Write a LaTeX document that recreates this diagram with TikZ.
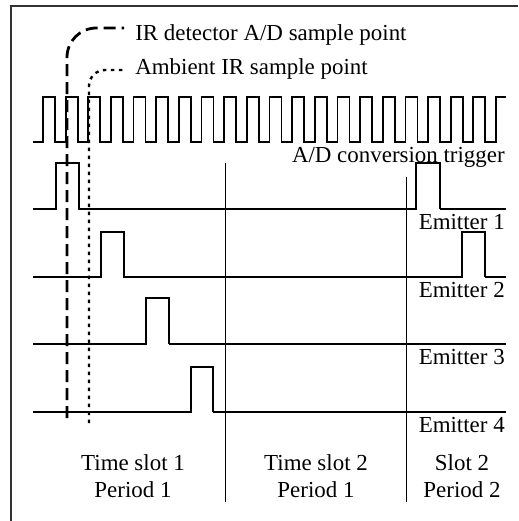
\documentclass[tikz,border=0pt]{standalone}
\usepackage{fontspec}
\setmainfont{Liberation Serif}
\usepackage{tikz}
\usetikzlibrary{calc}

\begin{document}
\begin{tikzpicture}[x=0.75pt, y=-0.75pt,
    signal/.style={line width=1.3pt, line join=miter},
    sigtail/.style={line width=1.8pt},
    slotline/.style={line width=0.7pt},
    lbl/.style={font=\fontsize{17.2}{20}\selectfont, inner sep=0pt}]
    \useasboundingbox (0,0) rectangle (518,521);

    % Frame
    \draw[line width=1pt, black!80] (11,521) -- (11,6) -- (518,6);

    % Clock
    \draw[signal] (33,142) -- (43,142)
        \foreach \i in {0,...,19} { -- ++(0,-45) -- ++(12,0) -- ++(0,45) -- ++(10.65,0) }
        -- ++(0,-45) -- (506,97);

    % A/D conversion trigger
    \draw[signal] (33,209) -- (56,209) -- (56,163) -- (79,163) -- (79,209)
        -- (416,209) -- (416,163) -- (440,163) -- (440,209);
    \draw[sigtail] (440,209) -- (506,209);

    % Emitter 1
    \draw[signal] (33,277) -- (101,277) -- (101,232) -- (124,232) -- (124,277)
        -- (462,277) -- (462,232) -- (485,232) -- (485,277);
    \draw[sigtail] (485,277) -- (506,277);

    % Emitter 2
    \draw[signal] (33,344) -- (146,344) -- (146,298) -- (169,298) -- (169,344);
    \draw[sigtail] (169,344) -- (506,344);

    % Emitter 3
    \draw[signal] (33,412) -- (191,412) -- (191,367) -- (213,367) -- (213,412);
    \draw[sigtail] (213,412) -- (506,412);

    % Time slot borders
    \draw[slotline] (225,163) -- (225,502);
    \draw[slotline] (406,177) -- (406,502);

    % Sample points
    \draw[line width=2.1pt, dash pattern=on 9pt off 4.5pt, rounded corners=22]
        (67,418) -- (67,28) -- (124,28);
    \draw[line width=1.8pt, dash pattern=on 2.6pt off 3.4pt, rounded corners=12]
        (89,423) -- (89,70) -- (124,70);
    \node[lbl, anchor=base west] (irsample) at (135,40) {IR detector A/D sample point};
    \node[lbl, anchor=base west] (ambsample) at (135,74) {Ambient IR sample point};

    % Signal names
    \node[lbl, anchor=base east] (trigger) at (505,162) {A/D conversion trigger};
    \node[lbl, anchor=base east] (emit1) at (505,229) {Emitter 1};
    \node[lbl, anchor=base east] (emit2) at (505,297) {Emitter 2};
    \node[lbl, anchor=base east] (emit3) at (505,364) {Emitter 3};
    \node[lbl, anchor=base east] (emit4) at (505,432) {Emitter 4};

    % Slot names
    \foreach \x/\top/\bot [count=\k] in {133/Time slot 1/Period 1, 316/Time slot 2/Period 1, 462/Slot 2/Period 2} {
        \node[lbl, anchor=base] (slot\k) at (\x,470) {\top};
        \node[lbl, anchor=base] (period\k) at (\x,497) {\bot};
    }
\end{tikzpicture}
\end{document}
